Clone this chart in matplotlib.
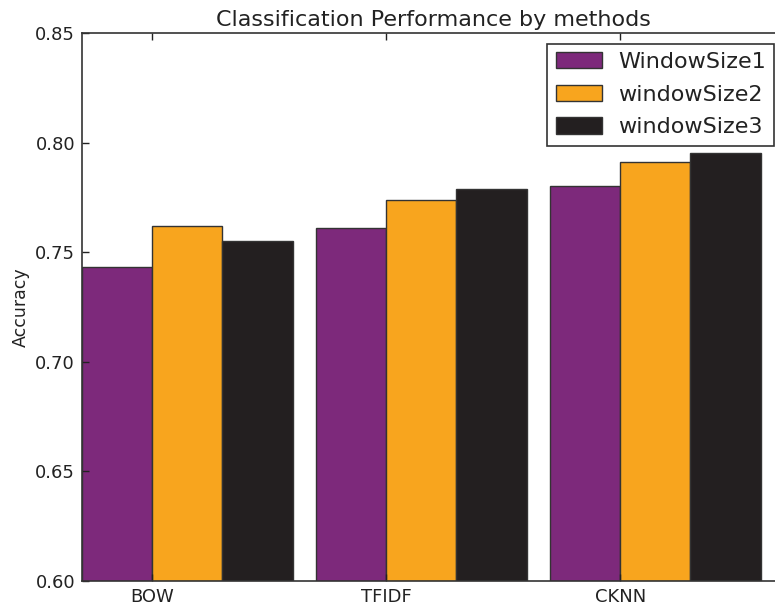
import matplotlib
matplotlib.use("Agg")
import matplotlib.pyplot as plt
import numpy as np

methods = ["BOW", "TFIDF", "CKNN"]
series_names = ["WindowSize1", "windowSize2", "windowSize3"]
window1 = [0.743, 0.761, 0.780]
window2 = [0.762, 0.774, 0.791]
window3 = [0.755, 0.779, 0.795]
colors = ["#7D297B", "#F8A51E", "#231F20"]

fig = plt.figure(figsize=(7.75, 6.07), dpi=100)
ax = fig.add_axes([82 / 775, (607 - 580.7) / 607, (784 - 82) / 775, (580.7 - 33) / 607])

ind = np.arange(len(methods))
width = 0.3
for i, (vals, name, c) in enumerate(zip([window1, window2, window3], series_names, colors)):
    ax.bar(ind + i * width, vals, width, align="edge", color=c, edgecolor="#333333",
           linewidth=1.0, label=name)

ax.set_xlim(0, 3.0)
ax.set_ylim(0.60, 0.85)
ax.set_yticks([0.60, 0.65, 0.70, 0.75, 0.80, 0.85])
ax.set_yticklabels(["0.60", "0.65", "0.70", "0.75", "0.80", "0.85"])
ax.set_xticks(ind + width)
ax.set_xticklabels(methods)
ax.tick_params(direction="in", top=True, right=True, length=5, width=1, labelsize=13,
               colors="#222222", pad=5)
for s in ax.spines.values():
    s.set_color("#333333")
    s.set_linewidth(1.2)
ax.set_ylabel("Accuracy", fontsize=12.5, color="#222222", labelpad=4)
ax.set_title("Classification Performance by methods", fontsize=16, color="#222222", pad=5)

leg = ax.legend(loc="upper right", bbox_to_anchor=(774 / 775, (607 - 43.5) / 607),
                bbox_transform=fig.transFigure, borderaxespad=0, fontsize=16, fancybox=False,
                framealpha=1, edgecolor="#333333", handlelength=2.1, handleheight=0.75,
                borderpad=0.38, labelspacing=0.57, handletextpad=0.7)
leg.get_frame().set_linewidth(1.2)
for t in leg.get_texts():
    t.set_color("#222222")

fig.savefig("out.png", dpi=100)
